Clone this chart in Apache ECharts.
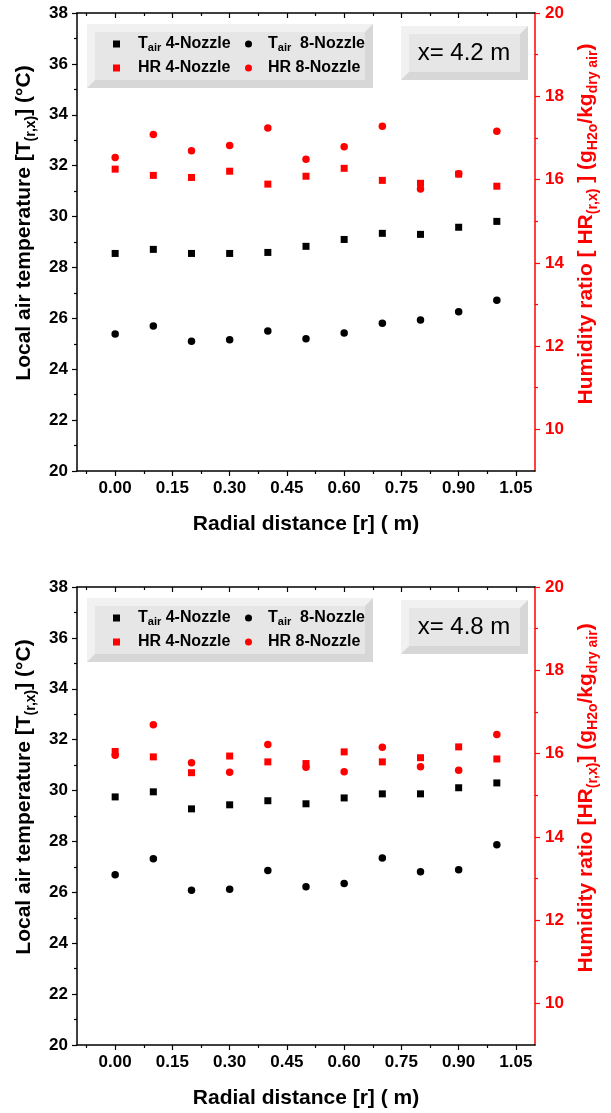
<!DOCTYPE html>
<html>
<head>
<meta charset="utf-8">
<title>Local air temperature and humidity ratio</title>
<script src="https://cdn.jsdelivr.net/npm/echarts@6.0.0/dist/echarts.min.js"></script>
<style>
  html, body { margin: 0; padding: 0; background: #fff; }
  #chart { width: 611px; height: 1113px; }
</style>
</head>
<body>
<div id="chart"></div>
<script>
// radial positions (m) and axis ticks
var radial = [0, 0.1, 0.2, 0.3, 0.4, 0.5, 0.6, 0.7, 0.8, 0.9, 1.0];
var xTicks = [0, 0.15, 0.30, 0.45, 0.60, 0.75, 0.90, 1.05];
var xMinorTicks = [-0.075, 0.075, 0.225, 0.375, 0.525, 0.675, 0.825, 0.975];
var hrTicks = [10, 12, 14, 16, 18, 20];
var hrMinorTicks = [11, 13, 15, 17, 19];

// x = 4.2 m
var tair4_42 = [28.55, 28.71, 28.55, 28.55, 28.59, 28.83, 29.10, 29.34, 29.30, 29.58, 29.81];
var tair8_42 = [25.38, 25.70, 25.10, 25.16, 25.50, 25.20, 25.42, 25.81, 25.93, 26.26, 26.71];
var hr4_42 = [16.25, 16.10, 16.05, 16.20, 15.89, 16.08, 16.27, 15.98, 15.91, 16.13, 15.84];
var hr8_42 = [16.53, 17.08, 16.69, 16.82, 17.24, 16.49, 16.79, 17.28, 15.77, 16.14, 17.16];

// x = 4.8 m
var tair4_48 = [29.75, 29.95, 29.28, 29.44, 29.60, 29.48, 29.71, 29.87, 29.87, 30.11, 30.30];
var tair8_48 = [26.69, 27.32, 26.08, 26.12, 26.86, 26.22, 26.35, 27.35, 26.81, 26.89, 27.87];
var hr4_48 = [16.05, 15.92, 15.54, 15.94, 15.80, 15.76, 16.04, 15.80, 15.90, 16.16, 15.87];
var hr8_48 = [15.96, 16.69, 15.78, 15.55, 16.22, 15.67, 15.56, 16.15, 15.68, 15.60, 16.46];

var FONT = "'Liberation Sans', Arial, sans-serif";
var RED = '#ff0000';

var panels = [
  { top: 13, tag: 'x= 4.2 m', t4: tair4_42, t8: tair8_42, h4: hr4_42, h8: hr8_42,
    hrName: '{n|Humidity ratio [ HR}{s|(r,x)}{n| ] (g}{s|H2o}{n|/kg}{s|dry air}{n|)}' },
  { top: 587, tag: 'x= 4.8 m', t4: tair4_48, t8: tair8_48, h4: hr4_48, h8: hr8_48,
    hrName: '{n|Humidity ratio [HR}{s|(r,x)}{n|] (g}{s|H2o}{n|/kg}{s|dry air}{n|)}' }
];
var plotH = 458;

var legendText = {
  'Tair 4-Nozzle': '{n|T}{s|air}{n| 4-Nozzle}',
  'Tair 8-Nozzle': '{n|T}{s|air}{n|  8-Nozzle}',
  'HR 4-Nozzle': '{n|HR 4-Nozzle}',
  'HR 8-Nozzle': '{n|HR 8-Nozzle}'
};

function pairs(ys) {
  return radial.map(function (r, i) { return [r, ys[i]]; });
}

function nameRich(size, color, sub) {
  return {
    n: { fontSize: size, fontWeight: 'bold', fontFamily: FONT, color: color, lineHeight: size + 6 },
    s: { fontSize: sub, fontWeight: 'bold', fontFamily: FONT, color: color, verticalAlign: 'bottom' }
  };
}

// Origin style raised box
function bevelBox(x, y, w, h, b) {
  return [
    { type: 'rect', shape: { x: x, y: y, width: w, height: h }, style: { fill: '#f1f1f1' }, z: 50 },
    { type: 'polygon', shape: { points: [[x + w, y], [x + w, y + h], [x, y + h], [x + b, y + h - b], [x + w - b, y + h - b], [x + w - b, y + b]] },
      style: { fill: '#d7d7d7' }, z: 50 },
    { type: 'rect', shape: { x: x + b, y: y + b, width: w - 2 * b, height: h - 2 * b }, style: { fill: '#e6e6e6' }, z: 50 }
  ];
}

var grids = [], xAxes = [], yAxes = [], series = [], legends = [], graphics = [];

panels.forEach(function (p, g) {
  grids.push({ left: 77, right: 76, top: p.top, height: plotH, containLabel: false, outerBoundsMode: 'none' });

  var blackLine = { show: true, onZero: false, lineStyle: { color: '#000', width: 1.5 } };
  var noLine = { show: false, onZero: false };
  // bottom axis with labels
  xAxes.push({
    gridIndex: g, type: 'value', min: -0.1, max: 1.1, position: 'bottom',
    axisLine: blackLine,
    axisTick: { show: true, length: 5, customValues: xTicks, lineStyle: { color: '#000', width: 1.2 } },
    axisLabel: { customValues: xTicks, margin: 9, fontSize: 17, fontWeight: 'bold', fontFamily: FONT, color: '#000',
      formatter: function (v) { return v.toFixed(2); } },
    splitLine: { show: false },
    name: '{n|Radial distance [r] ( m)}', nameLocation: 'middle', nameGap: 40,
    nameTextStyle: { rich: nameRich(21, '#000', 14) }
  });
  xAxes.push({
    gridIndex: g, type: 'value', min: -0.1, max: 1.1, position: 'bottom',
    axisLine: noLine,
    axisTick: { show: true, length: 3, customValues: xMinorTicks, lineStyle: { color: '#000', width: 1.2 } },
    axisLabel: { show: false }, splitLine: { show: false }
  });
  // mirrored top axis
  xAxes.push({
    gridIndex: g, type: 'value', min: -0.1, max: 1.1, position: 'top',
    axisLine: blackLine,
    axisTick: { show: true, inside: true, length: 5, customValues: xTicks, lineStyle: { color: '#000', width: 1.2 } },
    axisLabel: { show: false }, splitLine: { show: false }
  });
  xAxes.push({
    gridIndex: g, type: 'value', min: -0.1, max: 1.1, position: 'top',
    axisLine: noLine,
    axisTick: { show: true, inside: true, length: 3, customValues: xMinorTicks, lineStyle: { color: '#000', width: 1.2 } },
    axisLabel: { show: false }, splitLine: { show: false }
  });

  yAxes.push({
    gridIndex: g, type: 'value', min: 20, max: 38, interval: 2, position: 'left',
    axisLine: blackLine,
    axisTick: { show: true, length: 5, lineStyle: { color: '#000', width: 1.2 } },
    minorTick: { show: true, splitNumber: 2, length: 3, lineStyle: { color: '#000', width: 1.2 } },
    axisLabel: { margin: 9, fontSize: 17, fontWeight: 'bold', fontFamily: FONT, color: '#000' },
    splitLine: { show: false },
    name: '{n|Local air temperature [T}{s|(r,x)}{n|] (°C)}', nameLocation: 'middle', nameGap: 37, nameRotate: 90,
    nameTextStyle: { padding: [0, 0, 0, 38], rich: nameRich(21, '#000', 14) }
  });
  var redLine = { show: true, onZero: false, lineStyle: { color: RED, width: 1.5 } };
  yAxes.push({
    gridIndex: g, type: 'value', min: 9, max: 20, position: 'right',
    axisLine: redLine,
    axisTick: { show: true, length: 5, customValues: hrTicks, lineStyle: { color: RED, width: 1.2 } },
    axisLabel: { customValues: hrTicks, margin: 10, fontSize: 17, fontWeight: 'bold', fontFamily: FONT, color: RED },
    splitLine: { show: false },
    name: p.hrName, nameLocation: 'middle', nameGap: 38, nameRotate: 90,
    nameTextStyle: { padding: [0, 0, 0, 36], rich: nameRich(21, RED, 14) }
  });
  yAxes.push({
    gridIndex: g, type: 'value', min: 9, max: 20, position: 'right',
    axisLine: noLine,
    axisTick: { show: true, length: 3, customValues: hrMinorTicks, lineStyle: { color: RED, width: 1.2 } },
    axisLabel: { show: false }, splitLine: { show: false }
  });

  var xi = g * 4, yl = g * 3, yr = g * 3 + 1;
  series.push(
    { name: 'Tair 4-Nozzle', type: 'scatter', xAxisIndex: xi, yAxisIndex: yl, symbol: 'rect', symbolSize: 7,
      itemStyle: { color: '#000', opacity: 1 }, data: pairs(p.t4) },
    { name: 'Tair 8-Nozzle', type: 'scatter', xAxisIndex: xi, yAxisIndex: yl, symbol: 'circle', symbolSize: 7.5,
      itemStyle: { color: '#000', opacity: 1 }, data: pairs(p.t8) },
    { name: 'HR 4-Nozzle', type: 'scatter', xAxisIndex: xi, yAxisIndex: yr, symbol: 'rect', symbolSize: 7,
      itemStyle: { color: RED, opacity: 1 }, data: pairs(p.h4) },
    { name: 'HR 8-Nozzle', type: 'scatter', xAxisIndex: xi, yAxisIndex: yr, symbol: 'circle', symbolSize: 7.5,
      itemStyle: { color: RED, opacity: 1 }, data: pairs(p.h8) }
  );

  // legend box and position tag
  graphics = graphics.concat(bevelBox(87, p.top + 11, 286, 64, 8));
  graphics = graphics.concat(bevelBox(401, p.top + 13, 127, 54, 8));
  graphics.push({ type: 'text', z: 51,
    style: { text: p.tag, x: 464, y: p.top + 40, align: 'center', verticalAlign: 'middle',
      font: '24px ' + FONT, fill: '#000' } });

  var slots = [
    { name: 'Tair 4-Nozzle', left: 113, top: p.top + 23, pad: 13 },
    { name: 'Tair 8-Nozzle', left: 245, top: p.top + 23, pad: 11 },
    { name: 'HR 4-Nozzle', left: 113, top: p.top + 47, pad: 13 },
    { name: 'HR 8-Nozzle', left: 245, top: p.top + 47, pad: 11 }
  ];
  slots.forEach(function (s) {
    legends.push({
      data: [s.name], left: s.left, top: s.top, padding: 0, z: 60,
      itemWidth: 7, itemHeight: 7, selectedMode: false,
      itemStyle: { opacity: 1 },
      formatter: function (name) { return legendText[name]; },
      textStyle: { padding: [0, 0, 0, s.pad], rich: {
        n: { fontSize: 16, fontWeight: 'bold', fontFamily: FONT, color: '#000', lineHeight: 18 },
        s: { fontSize: 11, fontWeight: 'bold', fontFamily: FONT, color: '#000', verticalAlign: 'bottom' }
      } }
    });
  });
});

var chart = echarts.init(document.getElementById('chart'));
chart.setOption({
  backgroundColor: '#fff',
  animation: false,
  grid: grids,
  xAxis: xAxes,
  yAxis: yAxes,
  legend: legends,
  graphic: graphics,
  series: series
});
</script>
</body>
</html>
